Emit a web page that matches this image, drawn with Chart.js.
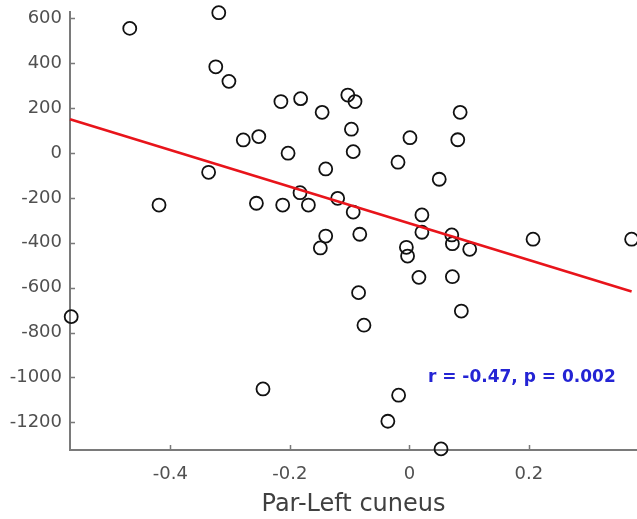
<!DOCTYPE html>
<html>
<head>
<meta charset="utf-8">
<script src="https://cdn.jsdelivr.net/npm/chart.js@4/dist/chart.umd.min.js"></script>
<style>
html,body{margin:0;padding:0;background:#fff;}
#wrap{width:637px;height:519px;position:relative;}
</style>
</head>
<body>
<div id="wrap"><canvas id="c" width="637" height="519"></canvas></div>
<script>
// Data
const parLeftCuneus = [-0.566,-0.468,-0.419,-0.319,-0.324,-0.302,-0.336,-0.278,-0.252,-0.256,
  -0.215,-0.182,-0.203,-0.212,-0.183,-0.169,-0.245,-0.146,-0.140,-0.140,
  -0.149,-0.120,-0.103,-0.091,-0.097,-0.094,-0.094,-0.083,-0.085,-0.076,
  -0.019,0.001,0.050,0.021,0.021,-0.005,-0.003,0.016,0.071,0.072,
  0.072,0.085,0.081,0.101,0.087,0.207,0.372,-0.018,-0.036,0.053];
const outcome = [-729,555,-232,625,384,319,-86,58,73,-224,
  229,242,-1,-232,-177,-232,-1051,181,-71,-370,
  -423,-202,258,229,106,6,-263,-362,-622,-767,
  -41,68,-117,-276,-353,-420,-459,-554,-365,-404,
  -551,181,59,-429,-704,-384,-384,-1079,-1195,-1318];
const fitX = [-0.568, 0.372];
const fitY = [150, -617];
const xTicks = [-0.4, -0.2, 0, 0.2];
const yTicks = [600, 400, 200, 0, -200, -400, -600, -800, -1000, -1200];
const xLabel = 'Par-Left cuneus';
const statText = 'r = -0.47, p = 0.002';

const scatterData = parLeftCuneus.map((x, i) => ({x: x, y: outcome[i]}));
const fitData = fitX.map((x, i) => ({x: x, y: fitY[i]}));

const inwardTicks = {
  id: 'inwardTicks',
  afterDraw(chart) {
    const ctx = chart.ctx, xs = chart.scales.x, ys = chart.scales.y, a = chart.chartArea;
    ctx.save();
    ctx.strokeStyle = '#7a7a7a';
    ctx.lineWidth = 1.5;
    ctx.beginPath();
    xs.ticks.forEach(t => { const p = Math.round(xs.getPixelForValue(t.value)) + 0.5; ctx.moveTo(p, a.bottom); ctx.lineTo(p, a.bottom - 5); });
    ys.ticks.forEach(t => { const p = Math.round(ys.getPixelForValue(t.value)) + 0.5; ctx.moveTo(a.left, p); ctx.lineTo(a.left + 5, p); });
    ctx.stroke();
    ctx.restore();
  }
};

const statLabel = {
  id: 'statLabel',
  afterDraw(chart, args, opts) {
    const ctx = chart.ctx;
    const px = chart.scales.x.getPixelForValue(opts.x);
    const py = chart.scales.y.getPixelForValue(opts.y);
    ctx.save();
    ctx.font = 'bold 17px "DejaVu Sans"';
    ctx.fillStyle = '#2424d4';
    ctx.textBaseline = 'middle';
    ctx.textAlign = 'left';
    ctx.fillText(opts.text, px, py);
    ctx.restore();
  }
};

function noPad(s) { s.paddingLeft = 0; s.paddingRight = 0; s.paddingTop = 0; s.paddingBottom = 0; }

new Chart(document.getElementById('c'), {
  data: {
    datasets: [
      {
        type: 'scatter',
        data: scatterData,
        pointStyle: 'circle',
        pointRadius: 6.5,
        pointBorderWidth: 1.8,
        pointBackgroundColor: 'rgba(0,0,0,0)',
        pointBorderColor: '#111',
        clip: false,
        order: 2
      },
      {
        type: 'line',
        data: fitData,
        borderColor: '#e8141b',
        borderWidth: 2.6,
        pointRadius: 0,
        fill: false,
        clip: false,
        order: 1
      }
    ]
  },
  options: {
    responsive: false,
    animation: false,
    devicePixelRatio: 1,
    layout: { autoPadding: false, padding: { top: 12, right: 0, left: 0, bottom: 0 } },
    plugins: {
      legend: { display: false },
      tooltip: { enabled: false },
      statLabel: { x: 0.031, y: -1002, text: statText }
    },
    scales: {
      x: {
        type: 'linear',
        min: -0.568,
        max: 0.381,
        afterBuildTicks: s => { s.ticks = xTicks.map(v => ({value: v})); },
        afterFit: s => { s.height = 69; noPad(s); },
        grid: { display: true, drawOnChartArea: false, drawTicks: false, color: 'rgba(0,0,0,0)' },
        border: { display: true, color: '#7a7a7a', width: 2 },
        ticks: {
          includeBounds: false,
          padding: 14,
          color: '#505050',
          font: { family: '"DejaVu Sans"', size: 18 },
          callback: v => String(Math.round(v * 10) / 10)
        },
        title: {
          display: true,
          text: xLabel,
          color: '#404040',
          font: { family: '"DejaVu Sans"', size: 24 },
          padding: { top: 0, bottom: 0 }
        }
      },
      y: {
        type: 'linear',
        min: -1323,
        max: 628,
        afterBuildTicks: s => { s.ticks = yTicks.map(v => ({value: v})); },
        afterFit: s => { s.width = 70; noPad(s); },
        grid: { display: true, drawOnChartArea: false, drawTicks: false, color: 'rgba(0,0,0,0)' },
        border: { display: true, color: '#7a7a7a', width: 2 },
        ticks: {
          includeBounds: false,
          padding: 8,
          color: '#505050',
          font: { family: '"DejaVu Sans"', size: 18 },
          callback: v => String(v)
        }
      }
    }
  },
  plugins: [inwardTicks, statLabel]
});
</script>
</body>
</html>
